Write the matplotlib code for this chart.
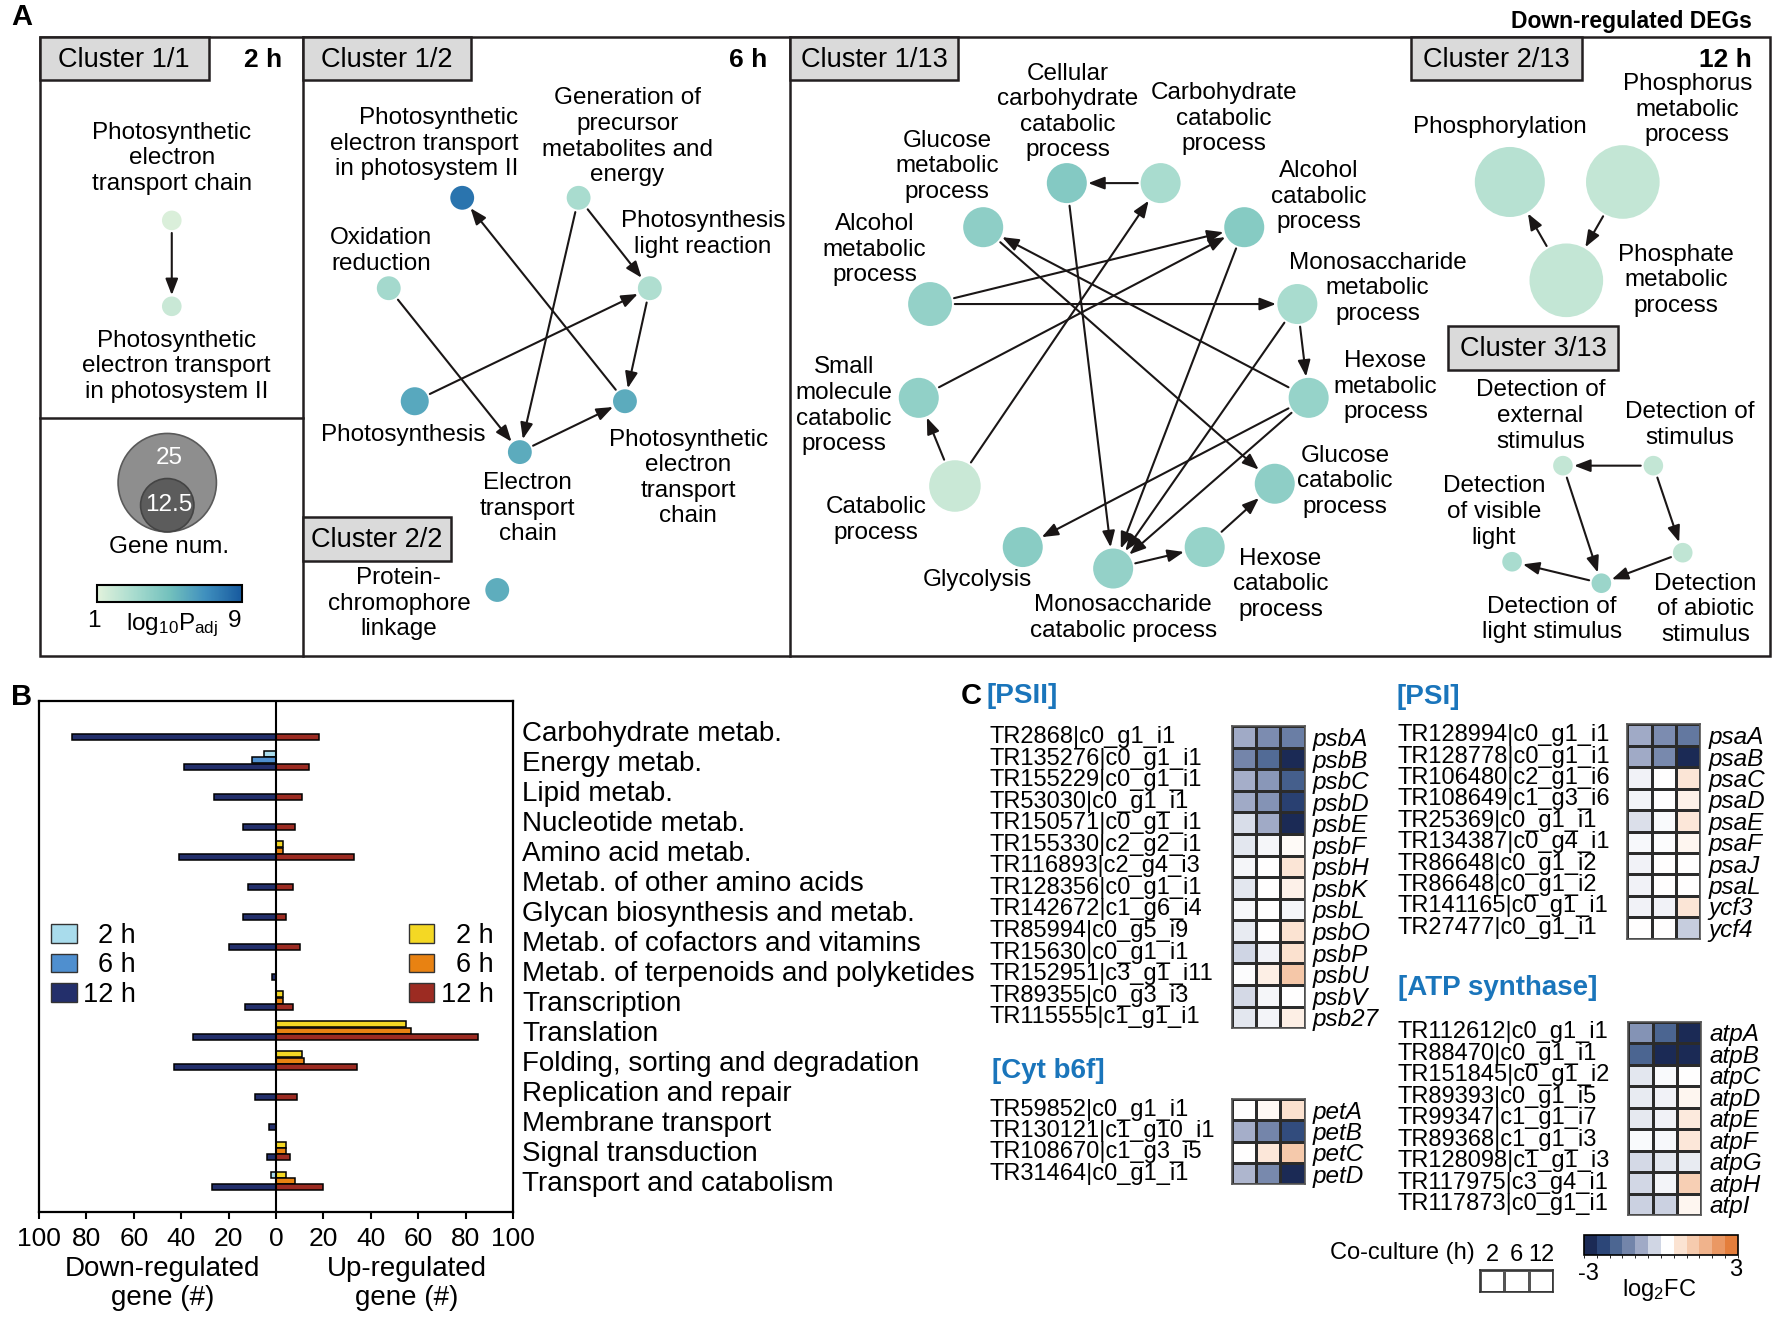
import numpy as np
import matplotlib
matplotlib.use("Agg")
import matplotlib.pyplot as plt
from matplotlib.patches import Circle, Rectangle, FancyArrowPatch, ArrowStyle, Patch
from matplotlib.colors import LinearSegmentedColormap, ListedColormap, BoundaryNorm, Normalize
from matplotlib.cm import ScalarMappable
import matplotlib.transforms as mtransforms

plt.rcParams['font.family'] = ['Liberation Sans', 'DejaVu Sans']
plt.rcParams['mathtext.default'] = 'regular'

# ============================ DATA ============================
# ---- Panel A : enriched GO terms of down-regulated DEGs ----
node_keys = ["pet_chain_2h", "pet_psii_2h",
             "pet_psii_6h", "gen_prec", "plr", "oxred", "photosyn", "etc", "pet_chain_6h", "pcl",
             "cell_carb", "carb_cat", "glu_met", "alc_cat", "alc_met", "mono_met", "small_mol",
             "hex_met", "catab", "glu_cat", "glycol", "mono_cat", "hex_cat",
             "phosphoryl", "phosphorus", "phosphate",
             "det_ext", "det_stim", "det_vis", "det_light", "det_abio"]
node_terms = ["Photosynthetic\nelectron\ntransport chain",
              "Photosynthetic\nelectron transport\nin photosystem II",
              "Photosynthetic\nelectron transport\nin photosystem II",
              "Generation of\nprecursor\nmetabolites and\nenergy",
              "Photosynthesis\nlight reaction",
              "Oxidation\nreduction",
              "Photosynthesis",
              "Electron\ntransport\nchain",
              "Photosynthetic\nelectron\ntransport\nchain",
              "Protein-\nchromophore\nlinkage",
              "Cellular\ncarbohydrate\ncatabolic\nprocess",
              "Carbohydrate\ncatabolic\nprocess",
              "Glucose\nmetabolic\nprocess",
              "Alcohol\ncatabolic\nprocess",
              "Alcohol\nmetabolic\nprocess",
              "Monosaccharide\nmetabolic\nprocess",
              "Small\nmolecule\ncatabolic\nprocess",
              "Hexose\nmetabolic\nprocess",
              "Catabolic\nprocess",
              "Glucose\ncatabolic\nprocess",
              "Glycolysis",
              "Monosaccharide\ncatabolic process",
              "Hexose\ncatabolic\nprocess",
              "Phosphorylation",
              "Phosphorus\nmetabolic\nprocess",
              "Phosphate\nmetabolic\nprocess",
              "Detection of\nexternal\nstimulus",
              "Detection of\nstimulus",
              "Detection\nof visible\nlight",
              "Detection of\nlight stimulus",
              "Detection\nof abiotic\nstimulus"]
node_genes = [4, 4,
              5, 5, 5, 5, 6, 5, 5, 5,
              9, 9, 9, 9, 10, 9, 9, 9, 12, 9, 9, 9, 9,
              17, 18, 18,
              4, 4, 4, 4, 4]
node_log10padj = [1.3, 1.9,
                  8.0, 3.0, 2.8, 3.2, 6.0, 5.9, 5.9, 5.8,
                  4.4, 3.0, 4.0, 4.3, 3.8, 3.0, 3.9, 3.7, 1.9, 4.0, 4.2, 3.8, 3.7,
                  2.5, 2.1, 2.1,
                  2.1, 2.1, 3.0, 3.5, 2.2]
edge_src = ["pet_chain_2h",
            "gen_prec", "gen_prec", "plr", "photosyn", "pet_chain_6h", "oxred", "etc",
            "carb_cat", "alc_met", "alc_met", "hex_met", "glu_met", "cell_carb", "catab",
            "catab", "small_mol", "alc_cat", "mono_met", "mono_met", "hex_met", "hex_met",
            "mono_cat", "hex_cat",
            "phosphate", "phosphorus",
            "det_stim", "det_ext", "det_stim", "det_abio", "det_light"]
edge_dst = ["pet_psii_2h",
            "plr", "etc", "pet_chain_6h", "plr", "pet_psii_6h", "etc", "pet_chain_6h",
            "cell_carb", "alc_cat", "mono_met", "glu_met", "glu_cat", "mono_cat", "small_mol",
            "carb_cat", "alc_cat", "mono_cat", "hex_met", "mono_cat", "glycol", "mono_cat",
            "hex_cat", "glu_cat",
            "phosphoryl", "phosphate",
            "det_ext", "det_light", "det_abio", "det_light", "det_vis"]
cluster_names = ["Cluster 1/1", "Cluster 1/2", "Cluster 2/2", "Cluster 1/13", "Cluster 2/13", "Cluster 3/13"]
time_labels = ["2 h", "6 h", "12 h"]

# ---- Panel B : KEGG categories ----
kegg_categories = ["Carbohydrate metab.", "Energy metab.", "Lipid metab.", "Nucleotide metab.",
                   "Amino acid metab.", "Metab. of other amino acids", "Glycan biosynthesis and metab.",
                   "Metab. of cofactors and vitamins", "Metab. of terpenoids and polyketides",
                   "Transcription", "Translation", "Folding, sorting and degradation",
                   "Replication and repair", "Membrane transport", "Signal transduction",
                   "Transport and catabolism"]
down_2h = [0, 5, 0, 0, 0, 0, 0, 0, 0, 0, 0, 0, 0, 0, 0, 2]
down_6h = [0, 10, 0, 0, 0, 0, 0, 0, 0, 0, 0, 0, 0, 0, 0, 0]
down_12h = [86, 39, 26, 14, 41, 12, 14, 20, 1.5, 13, 35, 43, 9, 3, 4, 27]
up_2h = [0, 0, 0, 0, 3, 0, 0, 0, 0, 3, 55, 11, 0, 0, 4, 4]
up_6h = [0, 0, 0, 0, 3, 0, 0, 0, 0, 3, 57, 12, 0, 0, 4, 8]
up_12h = [18, 14, 11, 8, 33, 7, 4, 10, 0, 7, 85, 34, 9, 0, 6, 20]
b_ticks = [-100, -80, -60, -40, -20, 0, 20, 40, 60, 80, 100]

# ---- Panel C : log2FC heatmaps (columns: 2 h, 6 h, 12 h) ----
psii_ids = ["TR2868|c0_g1_i1", "TR135276|c0_g1_i1", "TR155229|c0_g1_i1", "TR53030|c0_g1_i1",
            "TR150571|c0_g1_i1", "TR155330|c2_g2_i1", "TR116893|c2_g4_i3", "TR128356|c0_g1_i1",
            "TR142672|c1_g6_i4", "TR85994|c0_g5_i9", "TR15630|c0_g1_i1", "TR152951|c3_g1_i11",
            "TR89355|c0_g3_i3", "TR115555|c1_g1_i1"]
psii_genes = ["psbA", "psbB", "psbC", "psbD", "psbE", "psbF", "psbH", "psbK", "psbL", "psbO",
              "psbP", "psbU", "psbV", "psb27"]
psii_fc = [[-1.0, -1.4, -1.6], [-1.5, -1.9, -3.0], [-0.95, -1.25, -2.1], [-1.0, -1.3, -2.6],
           [-0.4, -1.0, -3.0], [-0.3, -0.1, 0.1], [-0.1, 0.0, 0.55], [-0.3, 0.02, 0.3],
           [-0.08, 0.0, -0.1], [-0.25, 0.0, 0.6], [-0.5, -0.15, 0.65], [-0.03, 0.35, 1.3],
           [-0.45, -0.1, 0.0], [-0.3, -0.12, 0.35]]
psi_ids = ["TR128994|c0_g1_i1", "TR128778|c0_g1_i1", "TR106480|c2_g1_i6", "TR108649|c1_g3_i6",
           "TR25369|c0_g1_i1", "TR134387|c0_g4_i1", "TR86648|c0_g1_i2", "TR86648|c0_g1_i2",
           "TR141165|c0_g1_i1", "TR27477|c0_g1_i1"]
psi_genes = ["psaA", "psaB", "psaC", "psaD", "psaE", "psaF", "psaJ", "psaL", "ycf3", "ycf4"]
psi_fc = [[-1.0, -1.4, -1.7], [-1.0, -1.45, -3.0], [-0.15, 0.0, 0.55], [-0.12, 0.0, 0.3],
          [-0.38, -0.05, 0.5], [-0.08, -0.03, 0.2], [-0.15, 0.02, 0.02], [-0.15, 0.02, 0.0],
          [-0.15, -0.15, 0.55], [0.0, 0.0, -0.6]]
cyt_ids = ["TR59852|c0_g1_i1", "TR130121|c1_g10_i1", "TR108670|c1_g3_i5", "TR31464|c0_g1_i1"]
cyt_genes = ["petA", "petB", "petC", "petD"]
cyt_fc = [[0.0, 0.15, 0.65], [-0.95, -1.5, -2.4], [0.02, 0.5, 1.25], [-0.85, -1.45, -3.0]]
atp_ids = ["TR112612|c0_g1_i1", "TR88470|c0_g1_i1", "TR151845|c0_g1_i2", "TR89393|c0_g1_i5",
           "TR99347|c1_g1_i7", "TR89368|c1_g1_i3", "TR128098|c1_g1_i3", "TR117975|c3_g4_i1",
           "TR117873|c0_g1_i1"]
atp_genes = ["atpA", "atpB", "atpC", "atpD", "atpE", "atpF", "atpG", "atpH", "atpI"]
atp_fc = [[-1.3, -2.0, -3.0], [-2.0, -3.0, -3.0], [-0.3, -0.05, 0.0], [-0.25, -0.15, 0.2],
          [-0.28, -0.15, 0.45], [-0.05, -0.08, 0.5], [-0.45, -0.3, -0.25], [-0.48, -0.12, 1.1],
          [-0.55, -0.55, 0.2]]
coculture_h = ["2", "6", "12"]

# ============================ LAYOUT ============================
# panel A layout in a 1568 x 1167 canvas (y down)
node_xy = {"pet_chain_2h": (152, 195), "pet_psii_2h": (152, 271),
           "pet_psii_6h": (409, 175), "gen_prec": (512, 175), "plr": (575, 255), "oxred": (344, 255),
           "photosyn": (367, 355), "etc": (460, 400), "pet_chain_6h": (553, 355), "pcl": (440, 522),
           "cell_carb": (944, 162), "carb_cat": (1027, 162), "glu_met": (870, 201), "alc_cat": (1101, 201),
           "alc_met": (823, 269), "mono_met": (1148, 269), "small_mol": (813, 352), "hex_met": (1158, 352),
           "catab": (845, 430), "glu_cat": (1128, 428), "glycol": (905, 484), "mono_cat": (985, 503),
           "hex_cat": (1066, 484),
           "phosphoryl": (1336, 161), "phosphorus": (1436, 161), "phosphate": (1386, 248),
           "det_ext": (1383, 412), "det_stim": (1463, 412), "det_vis": (1338, 497),
           "det_light": (1417, 516), "det_abio": (1489, 489)}
label_xy = {"pet_chain_2h": (152, 140), "pet_psii_2h": (156, 324),
            "pet_psii_6h": (375, 127), "gen_prec": (555, 121), "plr": (622, 207), "oxred": (337, 222),
            "photosyn": (357, 385), "etc": (467, 450), "pet_chain_6h": (609, 423), "pcl": (353, 534),
            "cell_carb": (945, 99), "carb_cat": (1083, 105), "glu_met": (838, 147), "alc_cat": (1167, 174),
            "alc_met": (774, 221), "mono_met": (1219, 255), "small_mol": (747, 359), "hex_met": (1226, 342),
            "catab": (775, 460), "glu_cat": (1190, 426), "glycol": (865, 513), "mono_cat": (994, 547),
            "hex_cat": (1133, 517),
            "phosphoryl": (1327, 112), "phosphorus": (1493, 97), "phosphate": (1483, 248),
            "det_ext": (1363, 368), "det_stim": (1495, 376), "det_vis": (1322, 453),
            "det_light": (1373, 548), "det_abio": (1509, 539)}
label_align = {"pet_psii_6h": "right"}
cluster_boxes = [(35, 33, 185, 71), (268, 33, 417, 71), (268, 457, 399, 496),
                 (699, 33, 848, 71), (1249, 33, 1400, 71), (1281, 288, 1432, 327)]
time_pos = [(250, 53), (679, 53), (1550, 53)]

FS_A = 17.5
LS = 1.21
EDGE = '#231f20'

fig = plt.figure(figsize=(17.72, 13.19), dpi=100)
ov = fig.add_axes([0, 0, 1, 1])
ov.set_xlim(0, 1568)
ov.set_ylim(1167, 0)
ov.axis('off')


def fr(x0, y0, x1, y1):
    """canvas box -> figure fraction rect"""
    return [x0 / 1568, 1 - y1 / 1167, (x1 - x0) / 1568, (y1 - y0) / 1167]


def gene_radius(n):
    return 43.5 * (n / 25.0) ** 0.88


cmap_p = LinearSegmentedColormap.from_list('padj', ['#e2f2dc', '#a9dccf', '#73c1bd', '#3f8fbe', '#175a9e'])
norm_p = Normalize(1, 9)

# ---------------- Panel A ----------------
ov.text(10, 15, "A", fontsize=21, fontweight='bold', ha='left', va='center')
ov.text(1550, 19, "Down-regulated DEGs", fontsize=16.5, fontweight='bold', ha='right', va='center')
ov.add_patch(Rectangle((35, 33), 1566 - 35, 580 - 33, fill=False, edgecolor=EDGE, lw=1.8, zorder=1))
ov.plot([268, 268], [33, 580], color=EDGE, lw=1.8, zorder=1)
ov.plot([699, 699], [33, 580], color=EDGE, lw=1.8, zorder=1)
ov.plot([35, 268], [370, 370], color=EDGE, lw=1.8, zorder=1)

for (x0, y0, x1, y1), name in zip(cluster_boxes, cluster_names):
    ov.add_patch(Rectangle((x0, y0), x1 - x0, y1 - y0, facecolor='#dadada', edgecolor=EDGE, lw=1.8, zorder=4))
    ov.text((x0 + x1) / 2, (y0 + y1) / 2 + 1, name, fontsize=19.5, ha='center', va='center', zorder=5)
for (x, y), t in zip(time_pos, time_labels):
    ov.text(x, y, t, fontsize=19, fontweight='bold', ha='right', va='center')

circles = {}
for key, term, n, lp in zip(node_keys, node_terms, node_genes, node_log10padj):
    x, y = node_xy[key]
    c = Circle((x, y), gene_radius(n), facecolor=cmap_p(norm_p(lp)), edgecolor='none', zorder=3)
    ov.add_patch(c)
    circles[key] = c
    lx, ly = label_xy[key]
    ov.text(lx, ly, term, fontsize=FS_A, ha='center', va='center', linespacing=LS,
            multialignment=label_align.get(key, 'center'), zorder=5)

astyle = ArrowStyle('-|>', head_length=0.7, head_width=0.27)
for a, b in zip(edge_src, edge_dst):
    arr = FancyArrowPatch(node_xy[a], node_xy[b], patchA=circles[a], patchB=circles[b],
                          arrowstyle=astyle, mutation_scale=14, lw=1.5, color='#1a1616',
                          shrinkA=2, shrinkB=1, zorder=2)
    ov.add_patch(arr)

# gene number legend
ov.add_patch(Circle((148, 427), 43.5, facecolor='#8e8e8e', edgecolor='#5a5a5a', lw=1.2, zorder=3))
ov.add_patch(Circle((148, 447), 23.6, facecolor='#5c5c5c', edgecolor='#444444', lw=1.2, zorder=4))
ov.text(150, 405, "25", color='white', fontsize=FS_A, ha='center', va='center', zorder=5)
ov.text(149, 447, "12.5", color='white', fontsize=FS_A, ha='center', va='center', zorder=5)
ov.text(150, 484, "Gene num.", fontsize=FS_A, ha='center', va='center')
cax_p = fig.add_axes(fr(86, 518, 214, 533))
cbp = fig.colorbar(ScalarMappable(norm=norm_p, cmap=cmap_p), cax=cax_p, orientation='horizontal')
cbp.set_ticks([])
cbp.outline.set_linewidth(1.5)
ov.text(83, 549, "1", fontsize=FS_A, ha='center', va='center')
ov.text(208, 549, "9", fontsize=FS_A, ha='center', va='center')
ov.text(152, 553, r"log$_{10}$P$_{adj}$", fontsize=FS_A, ha='center', va='center')

# ---------------- Panel B ----------------
ov.text(10, 617, "B", fontsize=21, fontweight='bold', ha='left', va='center')
axb = fig.add_axes(fr(34.5, 620, 454, 1072.5))
yb = np.arange(len(kegg_categories))
bar_h, slot = 0.2, 0.211
down_cols = ['#a9dcec', '#4f8fcf', '#232f6b']
up_cols = ['#f4d824', '#e88212', '#9c2b22']
for k, (dv, uv) in enumerate(zip([down_2h, down_6h, down_12h], [up_2h, up_6h, up_12h])):
    yy = yb - (2 - k) * slot
    dv = np.array(dv, float)
    uv = np.array(uv, float)
    m = dv > 0
    axb.barh(yy[m], -dv[m], height=bar_h, color=down_cols[k], edgecolor='black', lw=1.1, zorder=3)
    m = uv > 0
    axb.barh(yy[m], uv[m], height=bar_h, color=up_cols[k], edgecolor='black', lw=1.1, zorder=3)
axb.axvline(0, color='black', lw=1.5, zorder=4)
axb.set_xlim(-100, 100)
axb.set_ylim(15.83, -1.2)
axb.set_yticks([])
axb.set_xticks(b_ticks)
axb.set_xticklabels([str(abs(t)) for t in b_ticks], fontsize=19)
axb.tick_params(axis='x', length=5, width=1.5, pad=6, color='black')
for s in axb.spines.values():
    s.set_linewidth(1.6)
tb = mtransforms.blended_transform_factory(axb.transAxes, axb.transData)
for i, c in enumerate(kegg_categories):
    axb.text(1.019, i - 0.1, c, transform=tb, fontsize=20, ha='left', va='center', clip_on=False)
tx = mtransforms.blended_transform_factory(axb.transData, axb.transAxes)
axb.text(-48, -0.14, "Down-regulated\ngene (#)", transform=tx, fontsize=20, ha='center', va='center',
         linespacing=1.15)
axb.text(55, -0.14, "Up-regulated\ngene (#)", transform=tx, fontsize=20, ha='center', va='center',
         linespacing=1.15)
h_down = [Patch(facecolor=c, edgecolor='#333333', lw=1.0) for c in down_cols]
h_up = [Patch(facecolor=c, edgecolor='#333333', lw=1.0) for c in up_cols]
leg_labels = ["  2 h", "  6 h", "12 h"]
lg1 = axb.legend(h_down, leg_labels, loc='upper left', bbox_to_anchor=(0.025, 0.565), frameon=False,
                 fontsize=19.5, handlelength=0.95, handleheight=0.7, labelspacing=0.12,
                 handletextpad=0.25, borderaxespad=0, borderpad=0)
axb.add_artist(lg1)
axb.legend(h_up, leg_labels, loc='upper right', bbox_to_anchor=(0.96, 0.565), frameon=False,
           fontsize=19.5, handlelength=0.95, handleheight=0.7, labelspacing=0.12,
           handletextpad=0.25, borderaxespad=0, borderpad=0)

# ---------------- Panel C ----------------
blues = ['#1b2a55', '#2c4678', '#4c6692', '#7385aa', '#a0aac6', '#d0d6e4', '#ffffff']
oranges = ['#ffffff', '#fbe3d2', '#f6cbae', '#f0b38c', '#ea9864', '#e47e3c']
pos = list(np.linspace(0, 0.5, 7)) + list(np.linspace(0.5, 1, 6))[1:]
cmap_fc = LinearSegmentedColormap.from_list('fc', list(zip(pos, blues + oranges[1:])))

ov.text(850, 616, "C", fontsize=21, fontweight='bold', ha='left', va='center')
title_col = '#1a75bb'
ov.text(873, 616, "[PSII]", color=title_col, fontsize=20, fontweight='bold', ha='left', va='center')
ov.text(1236, 617, "[PSI]", color=title_col, fontsize=20, fontweight='bold', ha='left', va='center')
ov.text(878, 948, "[Cyt b6f]", color=title_col, fontsize=20, fontweight='bold', ha='left', va='center')
ov.text(1237, 874, "[ATP synthase]", color=title_col, fontsize=20, fontweight='bold', ha='left', va='center')


def heatmap(box, ids, genes, vals, id_x):
    ax = fig.add_axes(fr(*box))
    v = np.array(vals)
    n = v.shape[0]
    ax.pcolormesh(np.arange(4), np.arange(n + 1), v, cmap=cmap_fc, vmin=-3, vmax=3,
                  edgecolors='#2b2b2b', linewidth=0.9)
    ax.set_xlim(0, 3)
    ax.set_ylim(n, 0)
    ax.set_xticks([])
    ax.yaxis.tick_right()
    ax.set_yticks(np.arange(n) + 0.5)
    ax.set_yticklabels(genes, fontstyle='italic', fontsize=17.5)
    ax.tick_params(axis='y', length=0, pad=6)
    for s in ax.spines.values():
        s.set_color('#555555')
        s.set_linewidth(1.2)
    t = mtransforms.blended_transform_factory(ax.transAxes, ax.transData)
    for i, s in enumerate(ids):
        ax.text(id_x, i + 0.5, s, transform=t, ha='left', va='center', fontsize=17)
    return ax


heatmap((1090, 642.5, 1154.5, 909.6), psii_ids, psii_genes, psii_fc, -3.318)
heatmap((1440, 641, 1504.4, 830.4), psi_ids, psi_genes, psi_fc, -3.16)
heatmap((1090, 972.5, 1154.5, 1047.8), cyt_ids, cyt_genes, cyt_fc, -3.318)
heatmap((1441, 904, 1505, 1075), atp_ids, atp_genes, atp_fc, -3.195)

# co-culture key
axk = fig.add_axes(fr(1309.6, 1124, 1374.5, 1143.5))
axk.pcolormesh(np.arange(4), np.arange(2), np.zeros((1, 3)), cmap=ListedColormap(['white']),
               edgecolors='#555555', linewidth=1.0)
axk.set_xlim(0, 3)
axk.set_ylim(1, 0)
axk.set_yticks([])
axk.xaxis.tick_top()
axk.set_xticks(np.arange(3) + 0.5)
axk.set_xticklabels(coculture_h, fontsize=17)
axk.tick_params(axis='x', length=0, pad=3)
for s in axk.spines.values():
    s.set_color('#333333')
    s.set_linewidth(1.2)
ov.text(1305, 1109, "Co-culture (h)", fontsize=17, ha='right', va='center')

# log2FC colorbar (discrete)
cb_cols = blues[:6] + ['#ffffff'] + oranges[1:]
cmap_d = ListedColormap(cb_cols)
norm_d = BoundaryNorm(np.linspace(-3, 3, len(cb_cols) + 1), len(cb_cols))
caxf = fig.add_axes(fr(1401.7, 1093, 1537.7, 1110))
cbf = fig.colorbar(ScalarMappable(norm=norm_d, cmap=cmap_d), cax=caxf, orientation='horizontal')
cbf.set_ticks([])
cbf.outline.set_linewidth(1.2)
ov.text(1406, 1127, "-3", fontsize=17, ha='center', va='center')
ov.text(1536, 1124, "3", fontsize=17, ha='center', va='center')
ov.text(1468, 1141, r"log$_2$FC", fontsize=17, ha='center', va='center')

fig.savefig("out.png", dpi=100)
